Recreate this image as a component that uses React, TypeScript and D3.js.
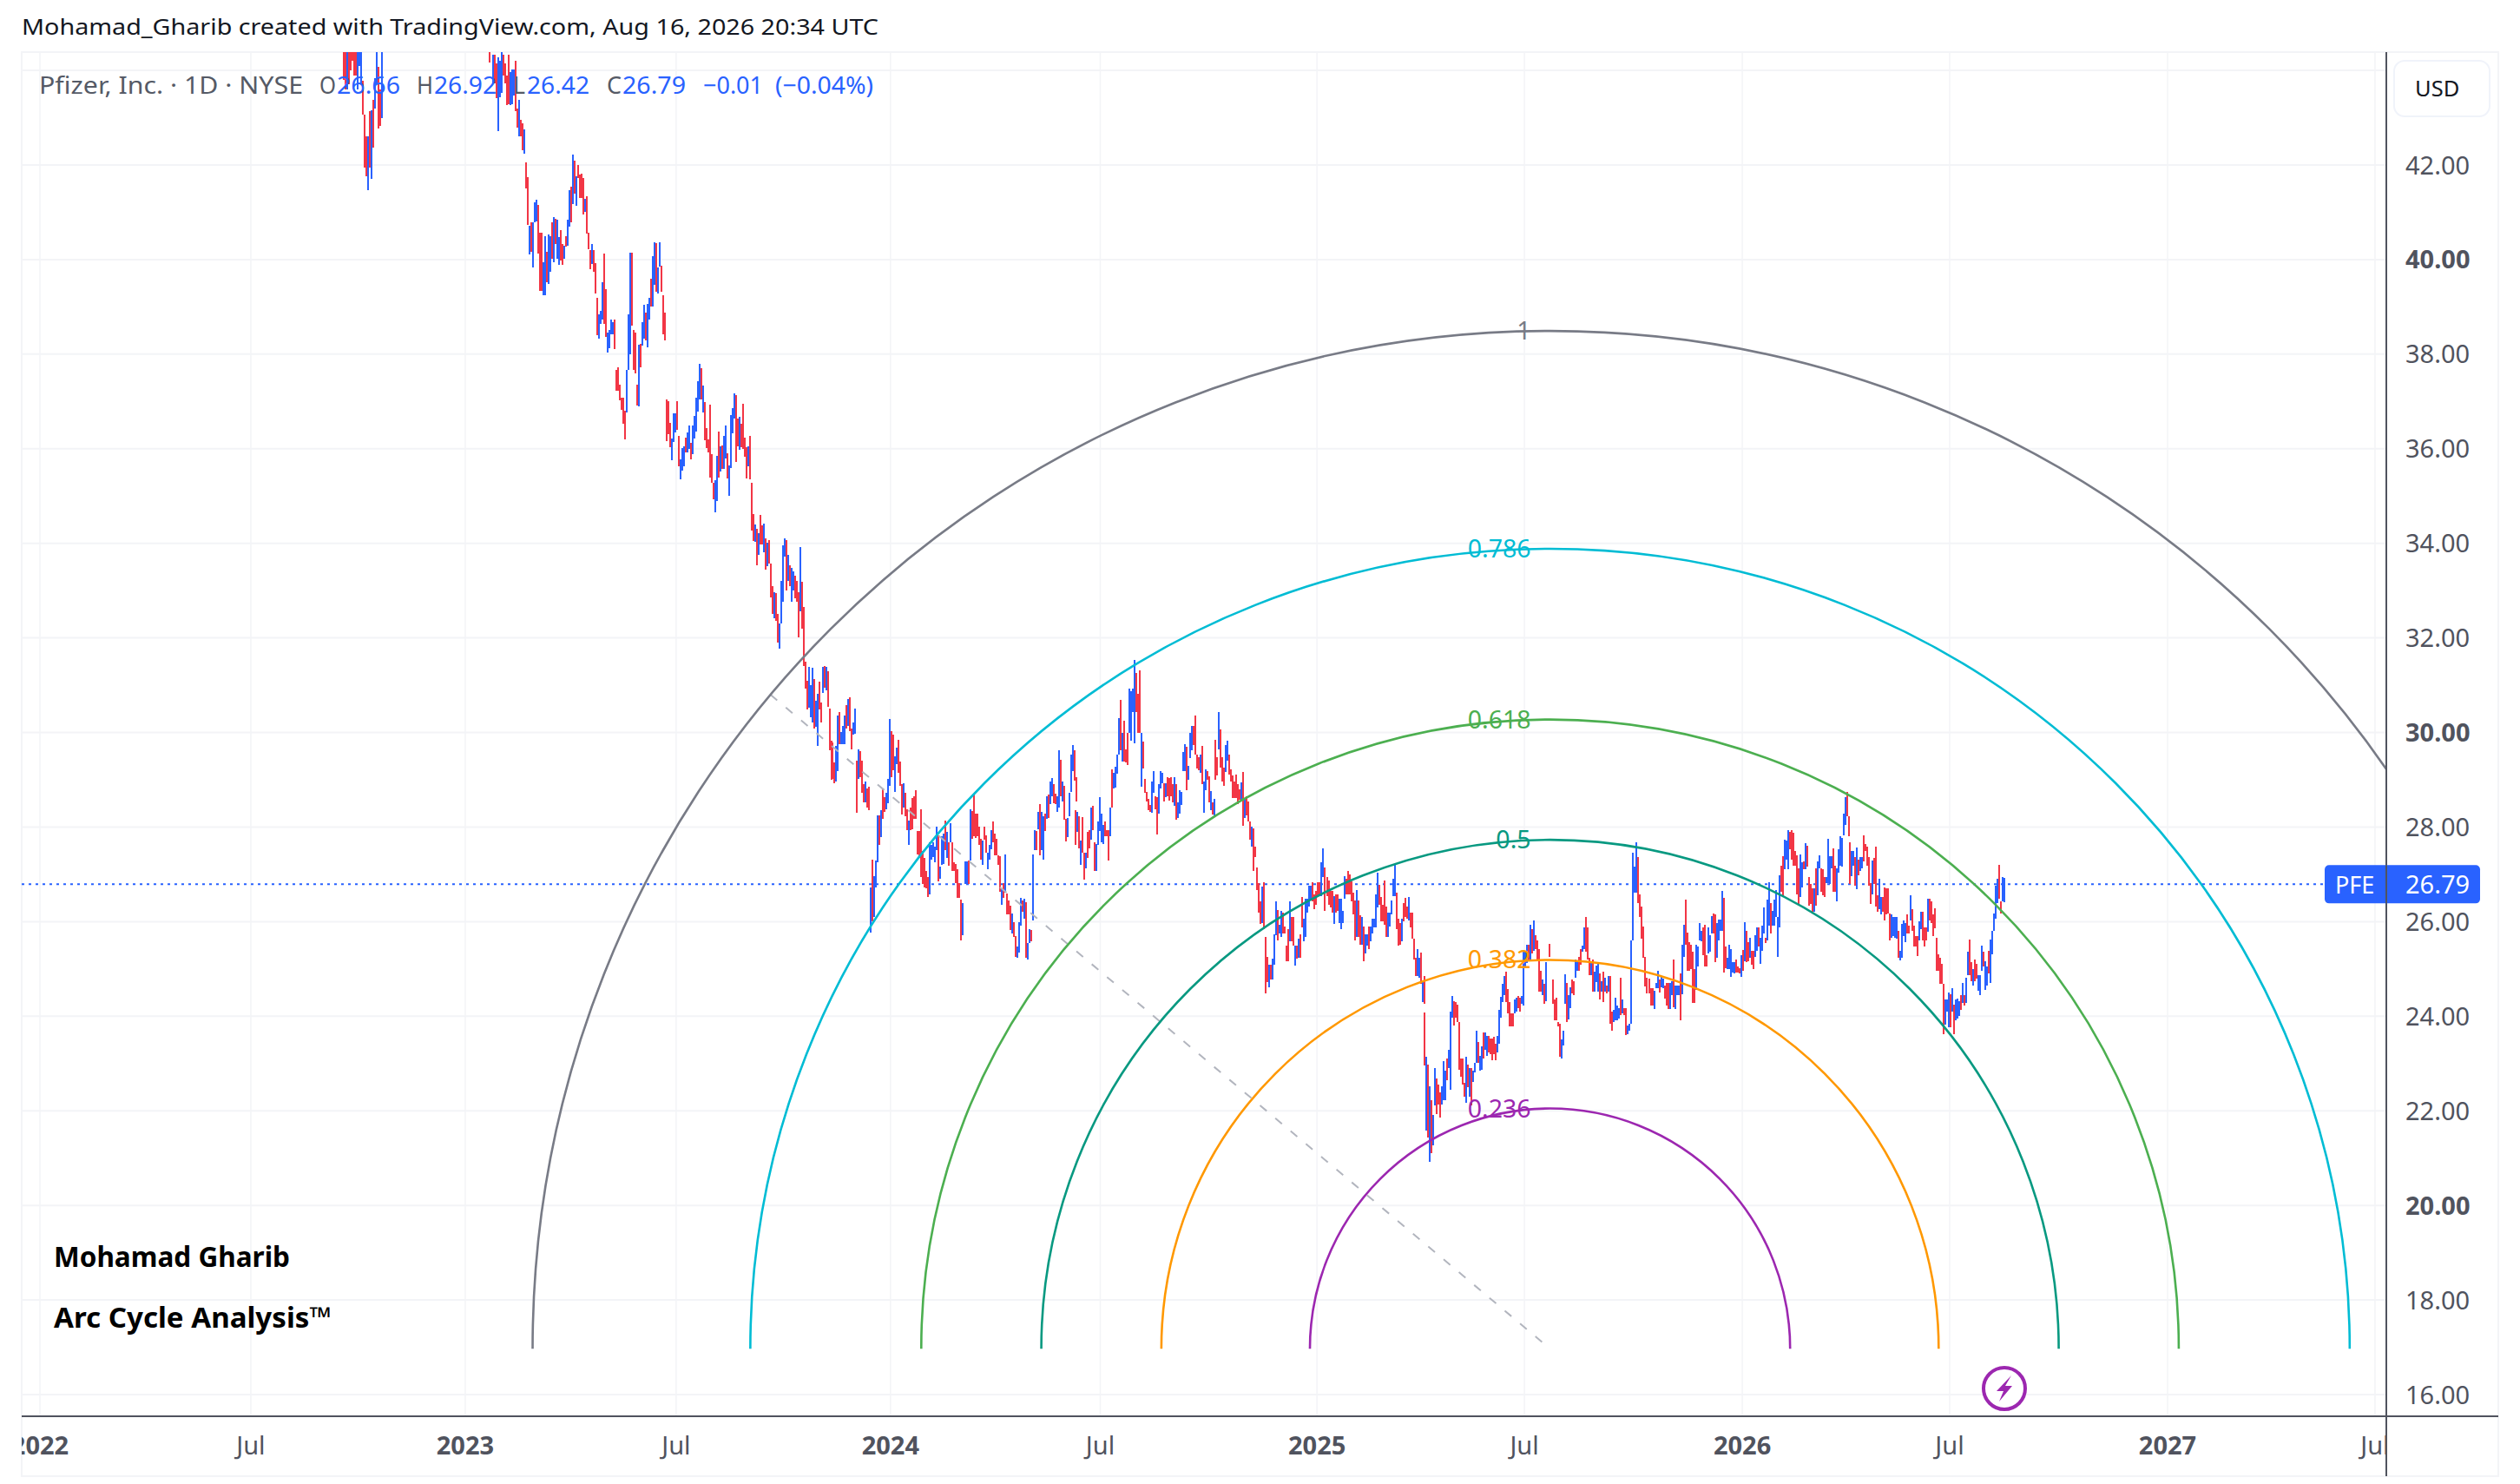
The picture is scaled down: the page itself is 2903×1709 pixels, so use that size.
import { useEffect, useRef } from "react";
import * as d3 from "d3";

const WIDTH = 2903;
const HEIGHT = 1709;

// price axis
const priceTicks = [42, 40, 38, 36, 34, 32, 30, 28, 26, 24, 22, 20, 18, 16];
const gridPrices = [44, ...priceTicks];
const boldPrices = [40, 30, 20];

// time axis
const timeTicks = ["2022-01-01", "2022-07-01", "2023-01-01", "2023-07-01", "2024-01-01", "2024-06-29", "2025-01-01", "2025-06-28", "2026-01-01", "2026-06-28", "2027-01-01", "2027-06-28"];
const timeLabels = ["2022", "Jul", "2023", "Jul", "2024", "Jul", "2025", "Jul", "2026", "Jul", "2027", "Jul"];

// fib arcs
const fibLevels = [1, 0.786, 0.618, 0.5, 0.382, 0.236];
const fibColors = ["#787B86", "#00BCD4", "#4CAF50", "#089981", "#FF9800", "#9C27B0"];
const arcCenterDate = "2025-07-20";
const arcCenterPrice = 16.97;
const arcAnchorDate = "2023-09-20";
const arcAnchorPrice = 30.8;

const lastPrice = 26.79;

// one bar every ~36 hours in runs
const barStepMinutes = 2148;
const runStarts = ["2022-09-19", "2023-01-22", "2023-05-11", "2023-06-23", "2023-11-12", "2024-03-05", "2024-06-08", "2024-10-06", "2025-04-03", "2025-08-02", "2025-10-13", "2026-04-03"];

const highs2022 = [45,45,45,45,45,45,45,45,45,45,45,43.78,43.07,42.6,42.6,43.14,43.16,43.38,43.84,45,44.07,43.6,45];
const lows2022 = [43.8,43.6,43.6,43.7,44,44.2,43.9,43.9,43.6,44.1,43.7,43.06,41.94,41.76,41.47,41.94,41.71,42.37,43.19,43.7,42.77,42.83,43];
const dirs2022 = "DDUDDDDDUUUDDDUDUDUUDDU";

const highsEarly2023 = [45,45,44.33,44.33,44.14,44.27,44.2,45,44.33,44.14,43.9,44.33,43.96,44.02,44.02,44.2,43.2,43.38,42.95,42.89,42.75,
  42.05,41.75,40.72,40.78,40.78,41.21,41.27,41.15,40.57,40.57,
  39.95,40.5,40.17,40.53,40.5,40.78,40.9,40.87,40.84,40.47,40.63,40.32,40.29,40.5,40.84,41.46,41.54,42.22,42.1,41.76,
  42,41.79,41.82,41.73,41.28,41.34,40.57,40.2,40.32,40.2,39.92,39.19,38.85,38.91,39.52,40.12,39.38,38.45,38.51,38.73,38.67,38.73];
const lowsEarly2023 = [44.16,44.9,43.72,43.72,43.41,42.71,43.44,43.53,43.9,43.72,43.26,43.29,43.26,43.29,43.47,43.14,42.79,42.6,42.6,42.32,42.24,
  41.51,40.74,40.11,40.17,39.83,40.78,40.81,40.12,39.34,39.34,
  39.25,39.25,39.52,39.48,39.74,40.01,39.95,40.32,40.01,39.89,39.98,39.88,40.01,40.28,40.29,40.69,40.78,41.18,41.39,41.13,
  41.73,41.3,41.3,40.95,41,40.55,40.21,39.8,39.91,39.74,39.29,38.4,38.33,38.64,38.73,38.64,38.36,38.03,38.12,38.42,38.42,38.1];
const dirsEarly2023 = "DDUDDUUUDDDDUUUDDUDDU DDUDUUUDDD UUDUUDUDUUDDUDUUDUDU DDDDUDDDUDDDUUUDDUUUUD";

const highsMay2023 = [37.66,37.72,37.35,37.08,37.08,36.8,37.66,38.85,40.14,40.14,38.51,38.45,37.35,38.2,38.22,38.67,39.04,38.88,39.07,39.19,39.59,40.08,40.36,40.35,39.83,40.36,39.87,39.25,38.88];
const lowsMay2023 = [37.23,37.23,37.02,36.83,36.53,36.19,36.77,37.66,38,38.6,37.66,37.6,36.92,36.9,37.72,38.18,38.33,38.3,38.14,38.73,39,39,39.46,39.32,39.28,39.86,39.32,38.42,38.3];
const dirsMay2023 = "DDDDDDUUUDDDDUDUUDUUDUUDUUDDD";

const highsJun2023 = [37.05,37,36.54,36.21,36.74,36.74,37.01,36.27,35.77,36.01,
  36.05,36.24,36.35,36.49,36.12,36.49,36.7,37.07,37.42,37.79,
  37.71,37.34,36.99,36.44,36.19,36.93,35.88,35.28,35.33,35.85,
  36.37,36.06,36.07,36.27,36.5,35.9,35.64,36.72,36.85,37.18,
  37.13,36.64,36.68,36.52,36.95,36.24,36.03,36.06,36.27,35.28,
  34.62,34.39,34.3,34.21,34.6,34.38,34.41,34.11,34.01,34.07,
  33.58,33.09,32.97,32.95,32.5,32.31,33.21,33.95,34.1,34.07,
  33.76,33.54,33.48,33.4,33.32,33.21,32.97,33.92,33.18,32.66,
  31.5,31.1,31.38,31.01,31.36,31.13,30.67,30.81,31.07,30.64,
  31.38,31.4,31.38,31.29,30.5,29.82];
const lowsJun2023 = [36.17,36.3,36.03,35.75,36.15,36.35,36.4,35.62,35.35,35.54,
  35.62,35.92,35.92,36,35.78,35.89,36.21,36.37,36.78,37.04,
  37.04,36.76,36.18,36.01,35.92,35.39,35.28,34.93,34.65,34.9,
  35.39,35.51,35.58,35.58,35.8,35.37,35.01,35.6,36.33,36.64,
  35.72,36.06,35.97,36.03,36,35.83,35.37,35.62,35.35,34.27,
  34.05,34.04,33.54,33.76,33.98,33.97,33.81,33.44,33.52,33.58,
  32.85,32.51,32.42,32.36,31.91,31.77,32.31,32.77,33.72,33.01,
  33.21,33.09,32.77,33.01,32.83,32.77,32.02,32.57,32.2,31.41,
  30.92,30.48,30.52,30.32,30.21,30.09,30.12,29.71,30.49,30.21,
  30.84,30.95,30.89,30.55,29.63,29];
const dirsJun2023 = "DDDUUUDDUU UDUUDUUUUU DUDDDDDDUU DUDUUDUUUU DDUDDDDUDD DUDUDDUDUD DDUDDUUUUD UDUUDDDUDD DDUUUDUUDD UDUDDD";

const highsNov2023 = [29.79,29.36,29.71,30.36,30.44,30.01,30.14,30.36,30.57,30.71,
  30.74,30.09,30.22,30.5,29.4,29.64,29.6,29.4,28.9,28.96,
  28.81,28.85,26.73,27.31,26.97,27.3,28.25,28.25,28.35,28.79,
  28.63,28.73,29.02,30.28,30.03,29.95,29.5,29.68,29.85,29.39,
  28.9,28.93,28.72,28.38,28.14,28.41,28.61,28.66,28.78,27.91,
  27.91,28.38,27.49,27.34,27.07,26.94,27.68,27.62,27.68,27.58,
  28.01,27.83,27.16,27.8,27.86,28.14,27.89,27.68,28.08,27.68,
  27.25,27.22,27.1,26.82,26.47,26.4];
const lowsNov2023 = [29.02,28.93,28.97,29.18,29.75,29.75,29.75,29.76,30.08,30.13,
  30.03,29.65,29.95,29.97,28.3,29.01,29.05,28.72,28.52,28.53,
  28.41,28.36,25.76,26.01,26.09,26.73,27.26,27.62,27.79,28.18,
  28.32,28.38,28.5,28.87,29.05,29.21,28.75,29.33,29.15,28.87,
  28.26,28.41,28.23,27.93,27.62,27.93,27.95,28.17,28.17,27.43,
  27.34,26.94,26.79,26.73,26.7,26.53,26.58,27.31,27.37,27.25,
  27.52,26.85,26.91,27.2,27.22,27.52,27.34,27.19,27.68,27.07,
  27.07,26.81,26.51,26.51,25.61,25.71];
const dirsNov2023 = "DDUUDUUUDU DDUUDUDDDU DDUDUUUDUD DUUUDDUUDD DUDDUDDDDD DDDDDDUUUU UDUUUDUDUD DDDDDU";

const highsMar2024 = [27.28,27.28,27.3,28.38,28.34,28.69,28.28,28.28,28.01,27.75,
  27.71,28.01,27.83,27.46,27.62,27.93,28.12,27.86,27.75,27.4,
  27.38,26.7,26.82,27.42,26.59,26.45,26.33,26.17,25.99,25.69,
  25.47,25.99,26.5,26.45,26.48,26.42,25.54,25.84,25.83,27.43,
  27.93,27.91,28.32,28.49,28.32,28.23,28.28,28.66,28.69,28.97,
  29.04,28.9,28.71,28.66,29.62,29.42,28.97,28.87,28.17,28.2,
  28.73,29.53,29.73,29.62,29.05];
const lowsMar2024 = [26.79,26.79,26.79,27.3,27.75,27.8,27.77,27.8,27.62,27.31,
  27.2,27.74,27.46,27.1,27.31,27.54,27.68,27.4,27.4,27.2,
  26.64,26.36,26.51,26.62,26.16,26.15,25.83,25.75,25.67,25.26,
  25.24,25.35,25.91,26.2,26.06,25.24,25.2,25.54,25.58,26.03,
  27.51,27.52,27.95,27.4,27.52,27.31,27.92,28.18,28.2,28.49,
  28.66,28.5,28.49,28.32,28.41,28.66,28.55,28.15,27.69,27.79,
  28.23,28.74,29.18,28.99,28.55];
const dirsMar2024 = "UUDUDDDDDD UDDUUUDDDD DUDUDDDUDD UUUDUDUUDU UDUDUUDUDU UDDUUDUDDU UUUDD";

const highsJun2024 = [28.35,28.32,28.23,27.71,28.21,27.46,27.46,27.89,27.93,28.41,
  28.44,27.68,27.65,28.11,28.63,28.29,28.04,28.12,27.93,27.93,
  28.41,29.22,29.15,29.28,29.54,30.3,30.69,29.99,30.24,29.65,
  29.99,30.93,30.87,30.92,31.53,31.26,30.81,31.32,30,29.81,
  29.02,28.75,28.6,28.47,28.96,29.18,28.66,28.63,28.9,29.18,
  29.15,28.93,28.93,29.05,29.04,29.05,28.9,29.05,28.9,28.53,
  28.78,28.75,29.59,29.75,29.7,29.3,30,30.13,30.14,30.36,
  29.54,29.48,29.54,29.71,28.97,29.22,29.18,29.07,28.77,28.53,
  28.6];
const lowsJun2024 = [27.63,27.89,27.55,27.2,27.46,26.88,27.13,27.34,27.55,27.74,
  27.93,27.08,27.08,27.62,27.92,27.68,27.65,27.81,27.8,27.3,
  27.81,28.41,28.81,28.84,29.12,29.54,29.62,29.39,29.39,29.36,
  29.32,29.99,29.82,30.43,29.77,30.43,30,30,28.85,29.24,
  28.73,28.55,28.35,28.32,28.3,28.72,28.38,27.85,28.29,28.81,
  28.93,28.55,28.63,28.66,28.56,28.66,28.53,28.44,28.15,28.2,
  28.29,28.46,29.18,29.18,28.78,29,29.45,29.62,29.73,29.54,
  29.24,29.21,29.15,28.91,28.3,28.78,29,28.53,28.36,28.26,
  28.24];
const dirsJun2024 = "DUDUDDUDDU DDUUUUUDDD UDUUUUDUDD DUUUUDDDUD DDDDUUDDUU UDUDDDDUDU UUUUDUUUDD DDUDUUDDUD U";

const highsOct2024 = [29.89,29.55,30.45,30.11,29.55,29.33,29.79,29.87,29.59,29.3,
  29.18,29.06,29.2,29,28.9,29.04,29.24,28.72,28.75,28.65,
  28.26,28.14,28.11,27.74,27.32,27.02,26.64,26.94,27.04,25.93,
  25.54,25.38,25.38,25.49,25.98,26.65,26.47,26.18,26.45,26.42,
  26.15,25.75,26.09,26.64,26.33,26.33,25.75,25.75,25.9,25.99,
  26.73,26.3,26.7,26.7,26.96,26.96,27.04,26.79,26.85,27.04,
  27.04,27.43,27.72,27.32,27.13,27.07,26.85,26.85,26.76,26.79,
  26.79,26.7,26.7,26.45,27.16,27.1,27.25,27.19,27.05,26.82,
  26.67,26.88,26.67,26.36,26.33,26.15,25.98,25.98,26.15,26.15,
  26.3,26.3,26.79,27.22,26.98,26.73,26.58,27.07,26.55,26.42,
  26.42,26.67,27.1,27.4,26.82,26.3,26.21,26.3,26.61,26.71,
  26.55,26.73,26.42,26.42,25.9,25.51,25.69,25.51,25.61,25.05,
  25.14];
const lowsOct2024 = [29.09,29.18,29.7,29.33,29.06,28.96,29.24,29.48,29.2,29.06,
  28.72,28.72,28.72,28.6,28.69,28.66,28.17,28.32,28.38,28.26,
  27.89,27.74,27.26,27.53,26.88,26.42,26.2,26.21,26.09,24.8,
  25.02,24.92,25.08,25.08,25.38,25.97,25.87,26,25.93,26,
  26,25.45,25.45,25.84,25.84,25.75,25.35,25.5,25.51,25.51,
  26.12,25.84,25.93,26.42,26.55,26.7,26.64,26.49,26.58,26.76,
  26.76,26.76,27.13,26.46,26.76,26.58,26.52,26.42,26.2,26.42,
  26.46,26.21,26.09,26.21,26.7,26.79,26.79,26.79,26.64,26.39,
  25.87,25.93,25.93,25.78,25.78,25.45,25.6,25.75,25.69,25.84,
  26,26.12,26.12,26.52,26.58,26.24,26.24,26.18,25.93,25.93,
  26.14,26.39,26.76,26.76,26.09,25.75,25.77,25.84,26.24,26.33,
  26.3,26.27,26.12,25.9,25.48,25.14,25.14,25.11,24.99,24.62,
  24.59];
const dirsOct2024 = "DDUDDDUUDD DDDDDUDUDD DUDDDDDUDD DUDUUUDUUD DDDUDDUDUD DUUUUUDDDD DUUDDDDDUD DUUUUDDDDD DUDDUDUUDU UUUUDDDDDU UUUUDDDUDD DUDDDDUUDU D";

const highsApr2025 = [24.42,23.52,23.36,22.94,22.66,22.35,23.3,23.09,22.97,22.81,
  22.94,23.43,23.24,23.49,23.67,24.44,24.74,24.65,24.62,24.57,
  24.22,23.49,23.49,23,23.52,23.36,23.3,23.3,23.24,23.4,
  24.04,23.82,23.55,23.73,24.01,24.01,23.95,23.95,23.9,23.9,
  23.92,23.79,23.95,24.47,24.73,24.99,25.14,25.23,24.89,24.62,
  24.4,24.4,24.68,24.71,24.74,24.71,24.74,25.66,25.63,25.78,
  25.78,26.18,26.09,26.27,25.97,25.87,25.69,25.26,25.08,24.99,
  25.43,25,25.79,25,25.08,24.68,24.71,24.22,24.19,23.88,
  24.04];
const lowsApr2025 = [23.35,22.05,21.9,21.41,21.59,21.75,22.54,22.37,22.57,22.31,
  22.57,22.66,22.66,23.06,23.3,22.87,24.31,24.16,24.31,24.22,
  23.27,23.12,22.97,22.72,22.6,22.91,22.72,22.54,23.02,23.21,
  23.4,23.4,23.24,23.27,23.49,23.67,23.55,23.61,23.58,23.46,
  23.58,23.46,23.61,23.79,24.31,24.62,24.77,24.62,24.4,24.13,
  24.13,24.13,24.4,24.44,24.5,24.44,24.59,24.56,25.32,25.41,
  25.45,25.48,25.6,25.66,25.69,25.48,24.83,24.83,24.77,24.59,
  24.65,25,25.54,25,24.59,24.25,24.25,24.13,23.52,23.49,
  23.76];
const dirsApr2025 = "DUDUDUUDDD UUUDUUUDDD DDDDUDUDUU UDUUDUUDDD DDUUUUUDDD DDUUDDUUUU DUDUDDDDUD UDDDDDDDDU U";

const highsAug2025 = [25.18,25,24.77,24.92,25.08,25.05,25.48,25.45,25.54,25.69,
  25.75,26.12,26.33,26.12,25.51,25.41,25.48,25.23,25.35,25.41,
  25.2,25.05,25.24,25.11,24.96,25.14,25.14,24.44,24.47,24.71,
  24.56,24.5,25.11,24.68,24.5,24.5,24.16,24.19,25.87,27.62,
  27.34,27.84,27.53,26.79,26.55,26.15,25.54,25.11];
const lowsAug2025 = [24.59,24.22,24.28,24.5,24.8,24.77,25.11,25.26,25.26,25.38,
  25.63,25.69,25.63,25.48,25.17,25.17,24.83,24.83,25.02,24.83,
  24.68,24.83,24.62,24.83,24.8,24.83,24.19,24.04,24.22,24.25,
  24.25,24.3,24.37,24.4,24.37,23.96,23.98,24.04,24.19,25.87,
  26.82,26.82,26.61,26.33,25.9,25.51,24.93,24.8];
const dirsAug2025 = "UDUUDDUUDD UUDDDUDUUU DUDUDUDDUU UUDUDDUUUU UUDDDDDD";

const highsOct2025 = [24.8,24.59,24.59,24.53,24.71,24.96,24.77,24.84,24.8,24.65,
  24.71,24.71,24.71,24.74,25.2,24.65,24.65,24.65,24.9,25.51,
  25.94,26.47,25.77,25.57,25.51,25.36,24.99,25.51,25.48,25.97,
  25.8,25.88,25.94,25.29,25.88,25.72,26.12,26.18,26.15,25.97,
  26.05,26.05,26.65,26.5,25.48,25.23,25.51,25.42,25.14,25.14,
  25.2,25.05,25.02,25.29,25.4,25.99,25.81,25.57,25.66,25.39,
  25.39,25.72,25.88,25.88,25.66,25.91,26.3,25.66,26.46,26.84,
  26.4,26.22,26.46,26.67,26.09,26.98,27.19,27.38,27.74,27.71,
  27.94,27.9,27.94,27.88,27.49,27.41,27.13,27.42,27.25,27.28,
  27.66,27.61,26.95,26.79,26.7,26.7,27.13,27.28,27.41,27.13,
  27.1,26.95,26.95,27.75,27.38,27.38,27.55,27.18,27.13,27.53,
  27.8,27.77,28.29,28.63,28.75,28.23];
const lowsOct2025 = [24.49,24.22,24.22,24.16,24.59,24.59,24.5,24.62,24.59,24.38,
  24.22,24.16,24.16,24.44,24.19,24.16,24.44,24.44,23.92,24.47,
  25.26,25.51,24.96,24.96,24.99,24.28,24.28,24.56,25.05,25.6,
  25.59,25.29,25.05,25.05,25.33,25.36,25.75,25.75,25.14,25.23,
  25.6,25.81,25.81,24.93,25.02,24.99,24.99,24.84,24.93,24.9,
  24.93,24.93,24.9,24.84,24.96,25.17,25.14,25.17,25.23,25.08,
  24.99,25.26,25.39,25.48,25.11,25.39,25.75,25.54,25.6,25.91,
  25.75,25.91,25.91,26.09,25.26,25.88,26.64,26.52,27.1,27.31,
  27.1,27.53,27.31,27.19,27.19,26.58,26.37,26.52,26.73,27.1,
  27.1,27.16,26.33,26.37,26.21,26.21,26.33,26.55,27.13,26.64,
  26.55,26.52,26.82,26.82,26.79,27.13,26.64,26.64,26.43,27.04,
  27.19,27.16,27.83,28.05,28.23,27.8];
const dirsOct2025 = "DDDUUUDUUD DDUUDUUUDU UDDDDDDUUU UDDDUUUDDU UUUDDUUUUU DDDUDUDDUD DUUDUUUDUU DUUUUUDDUU UDDDDDDUUD UDDDDUDUUD DDUUUUDDUU UUUUDD";

const highsApr2026 = [27.68,27.5,27.5,27.37,27.57,27.31,27.36,27.37,27.83,27.65,
  27.59,27.37,26.82,27.3,27.34,27.59,26.55,26.9,26.52,26.52,
  26.73,26.71,26.71,26.18,26.15,26.09,26.09,26.09,25.81,25.39,
  25.96,26.03,25.97,26.15,25.91,26.55,26.27,25.92,25.69,25.69,
  26,26.21,26.21,25.88,25.88,26.49,26.49,26.43,26.15,26.29,
  25.66,25.31,25.23,25.11,24.68,24.35,24.35,24.5,24.47,24.59,
  24.25,24.35,24.38,24.32,24.44,24.71,24.44,24.82,25.36,25.63,
  25.14,24.99,25.2,25.1,24.87,24.87,25.49,25.36,25.17,25.05,
  25.39,25.63,25.81,26.18,26.76,26.9,27.2,26.43,26.95,26.92];
const lowsApr2026 = [26.79,26.96,27.19,26.76,26.69,26.98,27.07,27.13,27.28,27.5,
  27.19,26.76,26.38,26.58,26.79,26.32,26.21,26.27,26.15,26.21,
  26.02,26.15,26.18,25.61,25.66,25.69,25.66,25.64,25.23,25.18,
  25.23,25.69,25.57,25.75,25.75,26.03,25.81,25.48,25.48,25.28,
  25.61,25.85,25.6,25.48,25.6,25.78,26.03,25.97,25.69,25.86,
  24.96,24.96,24.69,24.68,23.62,23.83,24.1,23.76,23.76,24.1,
  23.62,23.92,23.95,24.01,24.13,24.28,24.22,24.28,24.87,24.87,
  24.74,24.65,24.74,24.8,24.53,24.45,24.96,25.05,24.56,24.65,
  24.9,24.71,25.31,25.81,26.06,26.4,26.49,26.18,26.43,26.42];
const dirsApr2026 = "DUUDUDUUDD DDDUDDDUUD DDDDUUUUDU UUUDDUDDDD UUDDDUDDDD DDDDDUUUDU DUUUDUDUUD DUDDUUUDUU DUUUUUDDUU";

// Oct 2024 - Oct 2025 were read on a crop that was squeezed vertically, so those readings get rescaled
const unsqueeze = (values: number[]) => values.map(v => 30.8 - (30.8 - v) * 1.0526);

const highRuns = [highs2022, highsEarly2023, highsMay2023, highsJun2023, highsNov2023, highsMar2024, highsJun2024, unsqueeze(highsOct2024), unsqueeze(highsApr2025), unsqueeze(highsAug2025), highsOct2025, highsApr2026];
const lowRuns = [lows2022, lowsEarly2023, lowsMay2023, lowsJun2023, lowsNov2023, lowsMar2024, lowsJun2024, unsqueeze(lowsOct2024), unsqueeze(lowsApr2025), unsqueeze(lowsAug2025), lowsOct2025, lowsApr2026];
const dirRuns = [dirs2022, dirsEarly2023, dirsMay2023, dirsJun2023, dirsNov2023, dirsMar2024, dirsJun2024, dirsOct2024, dirsApr2025, dirsAug2025, dirsOct2025, dirsApr2026];

const LEFT = 25;
const AXIS_X = 2749;
const RIGHT = 2878;
const TOP = 60;
const AXIS_Y = 1631;
const BOTTOM = 1700;

const AXIS_COLOR = "#50535E";
const GRID_COLOR = "#F3F4F7";
const UP = "#2962FF";
const DOWN = "#F23645";
const FONT = "'Noto Sans', sans-serif";

export default function App() {
    const svgRef = useRef<SVGSVGElement | null>(null);

    useEffect(() => {
        const x = d3.scaleUtc()
            .domain([new Date("2022-01-01"), new Date("2027-01-01")])
            .range([46, 2497]);
        const y = d3.scaleLinear().domain([16, 42]).range([1606, 190]);

        const svg = d3.select(svgRef.current);
        svg.selectAll("*").remove();

        svg.append("rect").attr("width", WIDTH).attr("height", HEIGHT).attr("fill", "#fff");

        const defs = svg.append("defs");
        defs.append("clipPath").attr("id", "plot")
            .append("rect").attr("x", LEFT).attr("y", TOP).attr("width", AXIS_X - LEFT).attr("height", AXIS_Y - TOP);
        defs.append("clipPath").attr("id", "timeAxis")
            .append("rect").attr("x", LEFT).attr("y", AXIS_Y).attr("width", AXIS_X - LEFT).attr("height", BOTTOM - AXIS_Y);

        // Outer frame
        svg.append("rect")
            .attr("x", LEFT).attr("y", TOP).attr("width", RIGHT - LEFT).attr("height", BOTTOM - TOP)
            .attr("fill", "none").attr("stroke", GRID_COLOR).attr("stroke-width", 2);

        const plot = svg.append("g").attr("clip-path", "url(#plot)");

        // Grid
        plot.selectAll(".h-grid").data(gridPrices).enter().append("line")
            .attr("x1", LEFT).attr("x2", AXIS_X)
            .attr("y1", d => y(d)).attr("y2", d => y(d))
            .attr("stroke", GRID_COLOR).attr("stroke-width", 2);
        plot.selectAll(".v-grid").data(timeTicks).enter().append("line")
            .attr("x1", d => x(new Date(d))).attr("x2", d => x(new Date(d)))
            .attr("y1", TOP).attr("y2", AXIS_Y)
            .attr("stroke", GRID_COLOR).attr("stroke-width", 1.5);

        // Last price line
        plot.append("line")
            .attr("x1", LEFT).attr("x2", AXIS_X)
            .attr("y1", y(lastPrice)).attr("y2", y(lastPrice))
            .attr("stroke", UP).attr("stroke-width", 2).attr("stroke-dasharray", "3 5");

        // Bars
        const bars = runStarts.flatMap((start, r) => {
            const dirs = dirRuns[r].replace(/\s/g, "");
            return highRuns[r].map((high, i) => ({
                date: d3.utcMinute.offset(new Date(start), i * barStepMinutes),
                high,
                low: lowRuns[r][i],
                up: dirs[i] === "U",
            }));
        });
        plot.selectAll(".bar").data(bars).enter().append("line")
            .attr("x1", d => Math.round(x(d.date))).attr("x2", d => Math.round(x(d.date)))
            .attr("y1", d => y(d.high)).attr("y2", d => y(d.low))
            .attr("stroke", d => (d.up ? UP : DOWN))
            .attr("stroke-width", 2)
            .attr("shape-rendering", "crispEdges");

        // Fib arcs
        const cx = x(new Date(arcCenterDate));
        const cy = y(arcCenterPrice);
        const ax = x(new Date(arcAnchorDate));
        const ay = y(arcAnchorPrice);
        const radius = Math.hypot(cx - ax, cy - ay);

        plot.append("line")
            .attr("x1", ax).attr("y1", ay).attr("x2", cx).attr("y2", cy)
            .attr("stroke", "#B2B5BE").attr("stroke-width", 2).attr("stroke-dasharray", "10 13");

        fibLevels.forEach((level, i) => {
            const p = d3.path();
            p.arc(cx, cy, radius * level, Math.PI, 2 * Math.PI);
            plot.append("path").attr("d", p.toString())
                .attr("fill", "none").attr("stroke", fibColors[i]).attr("stroke-width", 2.6);
        });
        fibLevels.forEach((level, i) => {
            plot.append("text")
                .attr("x", cx - 22).attr("y", cy - radius * level)
                .attr("dy", "0.35em").attr("text-anchor", "end")
                .attr("font-family", FONT).attr("font-size", 28.5)
                .attr("fill", fibColors[i])
                .text(String(level));
        });

        // Axes
        svg.append("line").attr("x1", LEFT).attr("x2", RIGHT).attr("y1", AXIS_Y).attr("y2", AXIS_Y)
            .attr("stroke", AXIS_COLOR).attr("stroke-width", 2);
        svg.append("line").attr("x1", AXIS_X).attr("x2", AXIS_X).attr("y1", TOP).attr("y2", BOTTOM)
            .attr("stroke", AXIS_COLOR).attr("stroke-width", 2);

        const timeAxis = svg.append("g").attr("clip-path", "url(#timeAxis)");
        timeAxis.selectAll(".time-label").data(timeTicks).enter().append("text")
            .attr("x", d => x(new Date(d))).attr("y", 1675)
            .attr("text-anchor", "middle")
            .attr("font-family", FONT).attr("font-size", 29)
            .attr("font-weight", (_, i) => (timeLabels[i] === "Jul" ? 400 : 700))
            .attr("fill", AXIS_COLOR)
            .text((_, i) => timeLabels[i]);

        svg.selectAll(".price-label").data(priceTicks).enter().append("text")
            .attr("x", 2771).attr("y", d => y(d) + 10.5)
            .attr("font-family", FONT).attr("font-size", 29)
            .attr("font-weight", d => (boldPrices.includes(d) ? 700 : 400))
            .attr("fill", AXIS_COLOR)
            .text(d => d3.format(".2f")(d));

        // Currency box
        svg.append("rect").attr("x", 2758).attr("y", 70).attr("width", 110).attr("height", 64).attr("rx", 12)
            .attr("fill", "#fff").attr("stroke", "#F0F3FA").attr("stroke-width", 2);
        svg.append("text").attr("x", 2782).attr("y", 111)
            .attr("font-family", FONT).attr("font-size", 25.5).attr("fill", "#131722").text("USD");

        // Price tag
        svg.append("rect").attr("x", 2678).attr("y", y(lastPrice) - 22).attr("width", 179).attr("height", 44).attr("rx", 5)
            .attr("fill", UP);
        svg.append("line").attr("x1", AXIS_X).attr("x2", AXIS_X).attr("y1", y(lastPrice) - 22).attr("y2", y(lastPrice) + 22)
            .attr("stroke", AXIS_COLOR).attr("stroke-width", 2);
        svg.append("text").attr("x", 2690).attr("y", y(lastPrice) + 10.5)
            .attr("font-family", FONT).attr("font-size", 27).attr("fill", "#fff").text("PFE");
        svg.append("text").attr("x", 2771).attr("y", y(lastPrice) + 10.5)
            .attr("font-family", FONT).attr("font-size", 29).attr("fill", "#fff").text(d3.format(".2f")(lastPrice));

        // Earnings marker
        const marker = svg.append("g").attr("transform", `translate(${Math.round(x(bars[bars.length - 1].date))},1599)`);
        marker.append("circle").attr("r", 24).attr("fill", "#fff").attr("stroke", "#9C27B0").attr("stroke-width", 4);
        marker.append("path").attr("d", "M8 -15 L-9 3 L-1 3 L-6 15 L9 -3 L1 -3 Z").attr("fill", "#9C27B0");

        // Header and legend
        svg.append("text").attr("x", 25).attr("y", 40)
            .attr("font-family", FONT).attr("font-size", 26).attr("fill", "#131722")
            .attr("textLength", 987).attr("lengthAdjust", "spacingAndGlyphs")
            .text("Mohamad_Gharib created with TradingView.com, Aug 16, 2026 20:34 UTC");

        const legend = [
            { text: "Pfizer, Inc. · 1D · NYSE", at: 45, width: 304, color: "#555A66" },
            { text: "O", at: 368, width: 19, color: "#555A66" },
            { text: "26.66", at: 388, width: 73, color: UP },
            { text: "H", at: 480, width: 19, color: "#555A66" },
            { text: "26.92", at: 500, width: 72, color: UP },
            { text: "L", at: 591, width: 14, color: "#555A66" },
            { text: "26.42", at: 607, width: 72, color: UP },
            { text: "C", at: 699, width: 17, color: "#555A66" },
            { text: "26.79", at: 717, width: 73, color: UP },
            { text: "−0.01", at: 810, width: 69, color: UP },
            { text: "(−0.04%)", at: 893, width: 113, color: UP },
        ];
        svg.selectAll(".legend").data(legend).enter().append("text")
            .attr("x", d => d.at).attr("y", 108)
            .attr("font-family", FONT).attr("font-size", 27)
            .attr("textLength", d => d.width).attr("lengthAdjust", "spacingAndGlyphs")
            .attr("fill", d => d.color)
            .text(d => d.text);

        // Signature
        svg.append("text").attr("x", 62).attr("y", 1459)
            .attr("font-family", FONT).attr("font-size", 33).attr("font-weight", 700).attr("fill", "#000")
            .attr("textLength", 272).attr("lengthAdjust", "spacingAndGlyphs")
            .text("Mohamad Gharib");
        svg.append("text").attr("x", 62).attr("y", 1529)
            .attr("font-family", FONT).attr("font-size", 33).attr("font-weight", 700).attr("fill", "#000")
            .attr("textLength", 320).attr("lengthAdjust", "spacingAndGlyphs")
            .text("Arc Cycle Analysis™");
    }, []);

    return (
        <svg
            ref={svgRef}
            width={WIDTH}
            height={HEIGHT}
            viewBox={`0 0 ${WIDTH} ${HEIGHT}`}
            style={{ position: "absolute", left: 0, top: 0, display: "block" }}
        />
    );
}
